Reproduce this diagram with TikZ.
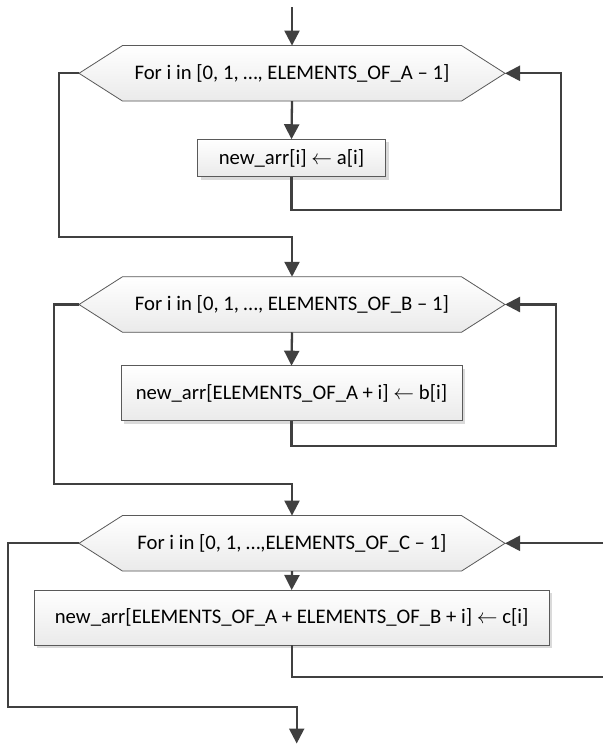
\documentclass[tikz,border=0pt]{standalone}
\usepackage{fontspec}
\setmainfont{Carlito}
\usetikzlibrary{arrows.meta,backgrounds,shadows}
\definecolor{linec}{HTML}{404040}
\definecolor{borderc}{HTML}{5A5A5A}
\definecolor{shadowc}{HTML}{DADADA}
\definecolor{fillbot}{HTML}{EAEAEA}
\newcommand\hexoutline[2]{%
  (#1.west) -- ([xshift=43.5pt]#1.north west) -- ([xshift=-43.5pt]#1.north east)
  -- (#1.east) -- ([xshift=-43.5pt]#1.south east) -- ([xshift=43.5pt]#1.south west) -- cycle}
\newcommand\hexdraw[1]{%
  \fill[shadowc, shift={(3pt,-3pt)}] \hexoutline{#1}{};
  \shadedraw[top color=white, bottom color=fillbot, draw=borderc, line width=0.8pt] \hexoutline{#1}{};}
\tikzset{
  hexnode/.style={draw=none, inner sep=0pt, outer sep=0pt, minimum width=426pt,
    minimum height=55.5pt, font=\fontsize{20.7}{24}\selectfont, text=black},
  boxnode/.style={draw=borderc, line width=0.8pt, inner sep=0pt, outer sep=0pt,
    top color=white, bottom color=fillbot,
    drop shadow={shadow xshift=3pt, shadow yshift=-3pt, fill=shadowc, opacity=1},
    font=\fontsize{20.7}{24}\selectfont, text=black},
  conn/.style={draw=linec, line width=2.3pt, -{Triangle[width=15pt,length=15pt]}},
  connplain/.style={draw=linec, line width=2.3pt},
}
\begin{document}
\begin{tikzpicture}[x=1pt,y=-1pt]
\useasboundingbox (0,0) rectangle (603,744);
\begin{scope}[on background layer]
  \fill[white] (0,0) rectangle (603,744);
\end{scope}

% loop 1
\node[hexnode] (h1) at (292,73.3) {For i in [0, 1, …, ELEMENTS\_OF\_A – 1]};
\node[boxnode, minimum width=188pt, minimum height=37.5pt] (b1) at (291.5,158)
  {new\_arr[i] $\leftarrow$ a[i]};
% loop 2
\node[hexnode] (h2) at (292,304.5) {For i in [0, 1, …, ELEMENTS\_OF\_B – 1]};
\node[boxnode, minimum width=341pt, minimum height=55pt] (b2) at (291.5,393.2)
  {new\_arr[ELEMENTS\_OF\_A + i] $\leftarrow$ b[i]};
% loop 3
\node[hexnode] (h3) at (292,543.3) {For i in [0, 1, …,ELEMENTS\_OF\_C – 1]};
\node[boxnode, minimum width=515pt, minimum height=55pt] (b3) at (291.7,617.5)
  {new\_arr[ELEMENTS\_OF\_A + ELEMENTS\_OF\_B + i] $\leftarrow$ c[i]};

\begin{scope}[on background layer]
  \hexdraw{h1}
  \hexdraw{h2}
  \hexdraw{h3}
\end{scope}

\coordinate (start) at (292,7);
\coordinate (l1) at (560.7,210);
\coordinate (e1) at (59.3,236.7);
\coordinate (l2) at (556,446);
\coordinate (e2) at (54,484.3);
\coordinate (l3) at (603,677.3);
\coordinate (r3) at (603,543.3);
\coordinate (e3) at (8.3,706.7);
\coordinate (finish) at (296.7,743.5);

\draw[conn] (start) -- (h1.north);
\draw[conn] (h1.south) -- (b1.north);
\draw[conn] (b1.south) |- (l1) |- (h1.east);
\draw[conn] (h1.west) -| (e1) -| (h2.north);

\draw[conn] (h2.south) -- (b2.north);
\draw[conn] (b2.south) |- (l2) |- (h2.east);
\draw[conn] (h2.west) -| (e2) -| (h3.north);

\draw[conn] (h3.south) -- (b3.north);
\draw[connplain] (b3.south) |- (l3);
\draw[conn] (r3) -- (h3.east);
\draw[conn] (h3.west) -| (e3) -| (finish);
\end{tikzpicture}
\end{document}
